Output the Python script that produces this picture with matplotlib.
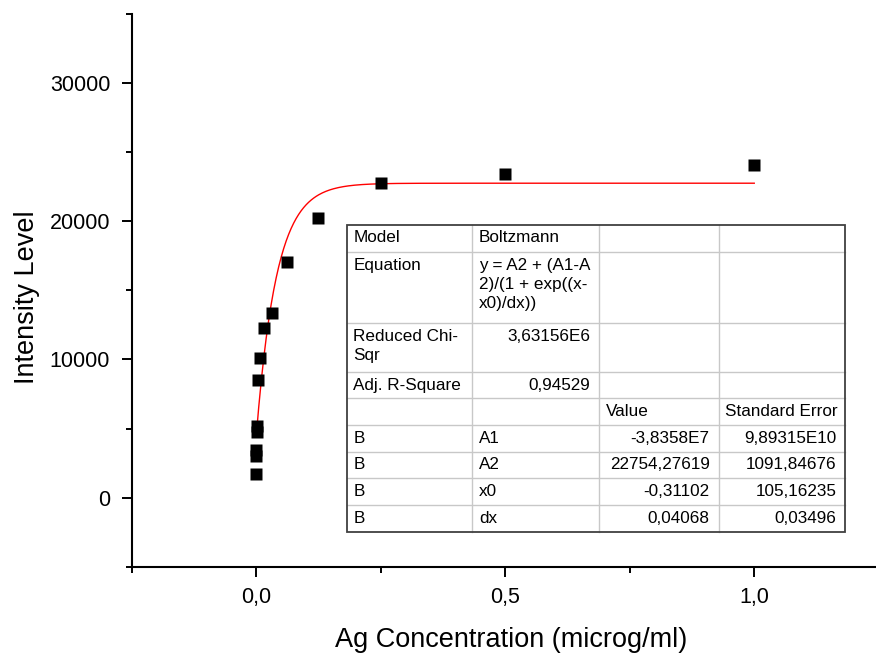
import numpy as np
import matplotlib.pyplot as plt
from matplotlib.lines import Line2D
from matplotlib.patches import Rectangle
from matplotlib.ticker import FixedLocator

plt.rcParams['font.family'] = ['Liberation Sans', 'DejaVu Sans']

# measured points
conc = [0.0, 0.0005, 0.0005, 0.001, 0.002, 0.0039, 0.0078, 0.0156, 0.0313, 0.0625, 0.125, 0.25, 0.5, 1.0]
intensity = [1740, 3000, 3480, 5150, 4780, 8510, 10070, 12280, 13330, 17030, 20220, 22780, 23450, 24060]

# Boltzmann fit parameters (from the fit table)
A1 = -3.8358e7
A2 = 22754.27619
x0 = -0.31102
dx = 0.04068

xticks = [0.0, 0.5, 1.0]
xticklabels = ["0,0", "0,5", "1,0"]
xminor = [-0.25, 0.25, 0.75, 1.25]
yticks = [0, 10000, 20000, 30000]
yminor = [-5000, 5000, 15000, 25000, 35000]

table_rows = [
    ["Model", "Boltzmann", "", ""],
    ["Equation", "y = A2 + (A1-A\n2)/(1 + exp((x-\nx0)/dx))", "", ""],
    ["Reduced Chi-\nSqr", "3,63156E6", "", ""],
    ["Adj. R-Square", "0,94529", "", ""],
    ["", "", "Value", "Standard Error"],
    ["B", "A1", "-3,8358E7", "9,89315E10"],
    ["B", "A2", "22754,27619", "1091,84676"],
    ["B", "x0", "-0,31102", "105,16235"],
    ["B", "dx", "0,04068", "0,03496"],
]

W, H = 876, 661
fig = plt.figure(figsize=(W / 100, H / 100), dpi=100)
ax = fig.add_axes([131.7 / W, 1 - 566.7 / H, (878.75 - 131.7) / W, (566.7 - 14) / H])

xfit = np.linspace(0, 1, 400)
yfit = A2 + (A1 - A2) / (1 + np.exp((xfit - x0) / dx))
ax.plot(xfit, yfit, color="red", lw=1.0, zorder=2)
ax.plot(conc, intensity, "s", color="black", ms=8.6, mec="none", zorder=3)

ax.set_xlim(-0.25, 1.25)
ax.set_ylim(-5000, 35000)
ax.set_xticks(xticks)
ax.set_xticklabels(xticklabels)
ax.set_yticks(yticks)
ax.xaxis.set_minor_locator(FixedLocator(xminor))
ax.yaxis.set_minor_locator(FixedLocator(yminor))
for s in ["top", "right"]:
    ax.spines[s].set_visible(False)
for s in ["left", "bottom"]:
    ax.spines[s].set_linewidth(1.5)
ax.tick_params(which="major", direction="out", length=7.5, width=1.4, labelsize=15.5, pad=7)
ax.tick_params(which="minor", direction="out", length=4.5, width=1.4)
ax.tick_params(axis="y", which="major", pad=8)

fig.text(27 / W, 1 - 297 / H, "Intensity Level", rotation=90, ha="center", va="center", fontsize=19.5)
fig.text(511 / W, 1 - 640 / H, "Ag Concentration (microg/ml)", ha="center", va="center", fontsize=19.5)

# fit table
col_edges = [346.7, 472.3, 599.3, 718.7, 845.3]
row_edges = [224.7, 252.3, 323.3, 372.3, 398.3, 425.0, 451.7, 478.3, 505.0, 532.3]


def fx(px):
    return px / W


def fy(py):
    return 1 - py / H


fig.add_artist(Rectangle((fx(col_edges[0]), fy(row_edges[-1])),
                         fx(col_edges[-1]) - fx(col_edges[0]), fy(row_edges[0]) - fy(row_edges[-1]),
                         facecolor="white", edgecolor="none", zorder=4))
for c in col_edges[1:-1]:
    fig.add_artist(Line2D([fx(c), fx(c)], [fy(row_edges[0]), fy(row_edges[-1])], color="#c8c8c8", lw=1.0, zorder=5))
for r in row_edges[1:-1]:
    fig.add_artist(Line2D([fx(col_edges[0]), fx(col_edges[-1])], [fy(r), fy(r)], color="#c8c8c8", lw=1.0, zorder=5))
fig.add_artist(Rectangle((fx(col_edges[0]), fy(row_edges[-1])),
                         fx(col_edges[-1]) - fx(col_edges[0]), fy(row_edges[0]) - fy(row_edges[-1]),
                         facecolor="none", edgecolor="#404040", lw=1.3, zorder=6))

for i, row in enumerate(table_rows):
    for j, cell in enumerate(row):
        if not cell:
            continue
        right = cell[0] in "-0123456789"
        for k, line in enumerate(cell.split("\n")):
            base = row_edges[i] + 17.7 + k * 18.8
            if right:
                fig.text(fx(col_edges[j + 1] - 9), fy(base), line, ha="right", va="baseline",
                         fontsize=12.3, zorder=7)
            else:
                fig.text(fx(col_edges[j] + 6.5), fy(base), line, ha="left", va="baseline",
                         fontsize=12.3, zorder=7)

fig.savefig("out.png", dpi=100)
